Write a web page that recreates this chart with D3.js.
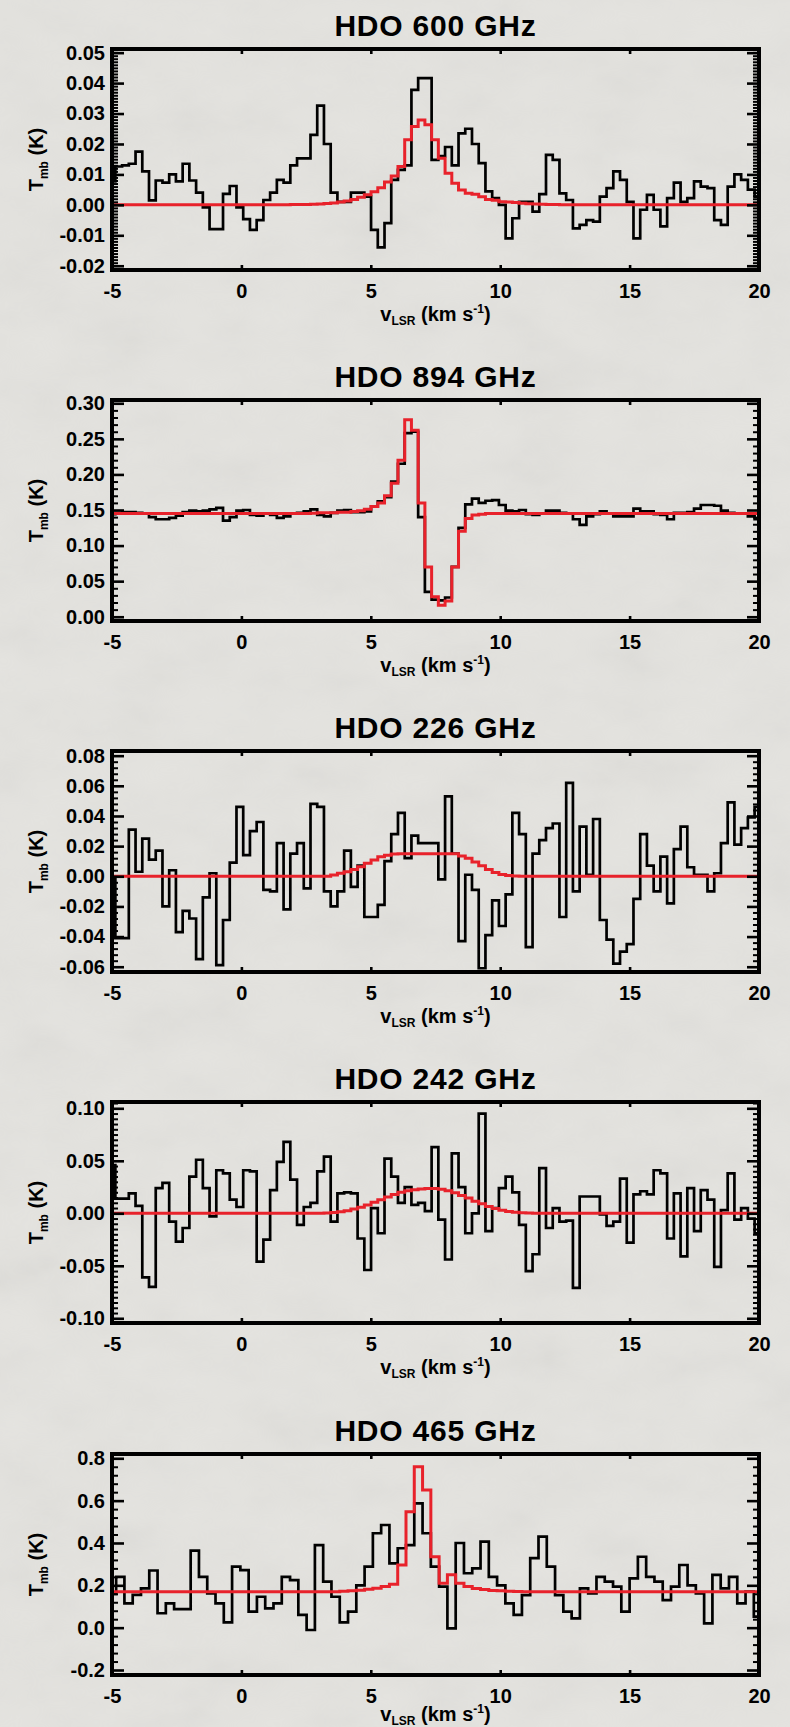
<!DOCTYPE html>
<html>
<head>
<meta charset="utf-8">
<script src="https://cdn.jsdelivr.net/npm/d3@7"></script>
<style>
html,body{margin:0;padding:0;background:#e4e3df;}
svg{display:block;}
text{font-family:"Liberation Sans",Arial,Helvetica,sans-serif;font-weight:bold;}
</style>
</head>
<body>
<svg id="chart" width="790" height="1727"></svg>
<script>
// ---------------- DATA ----------------
const velocityStart = -5;            // km/s, first channel
const velocityRange = [-5, 20];
const xTickValues = [-5, 0, 5, 10, 15, 20];
const xTickLabels = ["-5", "0", "5", "10", "15", "20"];

const titles = ["HDO 600 GHz", "HDO 894 GHz", "HDO 226 GHz", "HDO 242 GHz", "HDO 465 GHz"];
const channelWidth = [0.26, 0.26, 0.26, 0.26, 0.32];   // km/s

// HDO 600 GHz
const obs600 = [0.0077,0.0126,0.013,0.0135,0.0175,0.011,0.0015,0.008,0.0073,0.010,
0.0077,0.0135,0.008,0.004,-0.0008,-0.008,-0.008,0.0036,0.0062,-0.0008,
-0.0047,-0.0082,-0.005,0.0016,0.004,0.0082,0.0073,0.013,0.0153,0.0153,
0.023,0.0326,0.020,0.004,0.001,0.001,0.004,0.004,0.0027,-0.0082,
-0.014,-0.006,0.0082,0.0115,0.013,0.0378,0.0416,0.0416,0.0148,0.016,
0.019,0.013,0.0235,0.025,0.020,0.0137,0.0044,0.0022,0.0,-0.011,
-0.0044,0.001,0.001,-0.0022,0.0035,0.0164,0.0148,0.0038,0.0016,-0.0077,
-0.0066,-0.005,-0.0055,0.0027,0.0055,0.011,0.0082,0.001,-0.011,-0.0016,
0.0033,-0.0016,-0.0071,0.0022,0.0073,0.001,0.0022,0.0077,0.006,0.0055,
-0.005,-0.0066,0.006,0.010,0.0082,0.005,0.0027];
const fit600 = [0,0,0,0,0,0,0,0,0,0,
0,0,0,0,0,0,0,0,0,0,
0,0,0,0,0,0,0.00005,0.00008,0.0001,0.00015,
0.0002,0.0003,0.00045,0.00065,0.0009,0.0013,0.0018,0.0025,0.0033,0.0043,
0.0056,0.0075,0.0095,0.0126,0.0214,0.0257,0.0279,0.0263,0.0214,0.0153,
0.0104,0.0071,0.0049,0.0038,0.0035,0.0027,0.0018,0.0015,0.001,0.0009,
0.0008,0.0005,0.0004,0.0003,0.0002,0.00015,0.0001,0.00005,0,0,
0,0,0,0,0,0,0,0,0,0,
0,0,0,0,0,0,0,0,0,0,
0,0,0,0,0,0,0];
const yRange600 = [-0.0214, 0.0512];
const yTicks600 = [-0.02, -0.01, 0, 0.01, 0.02, 0.03, 0.04, 0.05];
const yTickLabels600 = ["-0.02", "-0.01", "0.00", "0.01", "0.02", "0.03", "0.04", "0.05"];

// HDO 894 GHz
const obs894 = [0.144,0.146,0.147,0.147,0.146,0.145,0.140,0.137,0.137,0.139,
0.142,0.147,0.149,0.148,0.149,0.151,0.153,0.135,0.140,0.149,
0.150,0.143,0.142,0.145,0.143,0.139,0.141,0.145,0.146,0.148,
0.151,0.143,0.141,0.146,0.149,0.150,0.147,0.147,0.148,0.155,
0.162,0.168,0.190,0.215,0.258,0.260,0.140,0.035,0.024,0.023,
0.027,0.070,0.125,0.158,0.166,0.160,0.163,0.164,0.157,0.149,
0.148,0.150,0.144,0.143,0.145,0.149,0.149,0.146,0.145,0.137,
0.129,0.141,0.144,0.148,0.145,0.141,0.141,0.141,0.152,0.148,
0.148,0.144,0.143,0.137,0.146,0.146,0.147,0.152,0.157,0.157,
0.156,0.149,0.146,0.145,0.145,0.141,0.137];
const fit894 = [0.145,0.145,0.145,0.145,0.145,0.145,0.145,0.145,0.145,0.145,
0.145,0.145,0.145,0.145,0.145,0.145,0.145,0.145,0.145,0.145,
0.145,0.145,0.145,0.145,0.145,0.145,0.145,0.145,0.145,0.145,
0.1455,0.146,0.146,0.146,0.147,0.147,0.148,0.149,0.151,0.155,
0.160,0.170,0.1875,0.220,0.277,0.262,0.160,0.070,0.028,0.016,
0.022,0.070,0.120,0.138,0.143,0.144,0.145,0.145,0.145,0.145,
0.145,0.145,0.145,0.145,0.145,0.145,0.145,0.145,0.145,0.145,
0.145,0.145,0.145,0.145,0.145,0.145,0.145,0.145,0.145,0.145,
0.145,0.145,0.145,0.145,0.145,0.145,0.145,0.145,0.145,0.145,
0.145,0.145,0.145,0.145,0.145,0.145,0.145];
const yRange894 = [-0.006, 0.3046];
const yTicks894 = [0, 0.05, 0.10, 0.15, 0.20, 0.25, 0.30];
const yTickLabels894 = ["0.00", "0.05", "0.10", "0.15", "0.20", "0.25", "0.30"];

// HDO 226 GHz
const obs226 = [-0.001,-0.041,-0.041,0.031,0.003,0.025,0.011,0.017,-0.020,0.004,
-0.037,-0.023,-0.028,-0.055,-0.014,0.002,-0.059,-0.029,0.009,0.046,
0.014,0.030,0.036,-0.009,-0.010,0.022,-0.022,0.015,0.022,-0.008,
0.048,0.046,-0.010,-0.020,-0.010,0.017,-0.007,0.007,-0.027,-0.027,
-0.019,0.010,0.028,0.042,0.012,0.027,0.022,0.022,0.022,-0.002,
0.053,0.015,-0.043,0.001,-0.009,-0.061,-0.039,-0.016,-0.033,-0.012,
0.042,0.028,-0.047,0.015,0.024,0.032,0.035,-0.027,0.062,-0.010,
0.033,0.001,0.038,-0.029,-0.042,-0.058,-0.050,-0.045,-0.015,0.028,
0.007,-0.010,0.013,-0.018,0.018,0.033,0.006,0.001,0.001,-0.010,
0.002,0.022,0.049,0.021,0.032,0.039,0.046];
const fit226 = [0,0,0,0,0,0,0,0,0,0,
0,0,0,0,0,0,0,0,0,0,
0,0,0,0,0,0,0,0,0,0,
0,0,0,0.0008,0.002,0.003,0.0045,0.0063,0.0086,0.0108,
0.013,0.014,0.0148,0.015,0.015,0.015,0.015,0.015,0.015,0.015,
0.015,0.015,0.0135,0.012,0.0095,0.007,0.0045,0.0025,0.0012,0.0005,
0.0002,0,0,0,0,0,0,0,0,0,
0,0,0,0,0,0,0,0,0,0,
0,0,0,0,0,0,0,0,0,0,
0,0,0,0,0,0,0];
const yRange226 = [-0.0635, 0.0831];
const yTicks226 = [-0.06, -0.04, -0.02, 0, 0.02, 0.04, 0.06, 0.08];
const yTickLabels226 = ["-0.06", "-0.04", "-0.02", "0.00", "0.02", "0.04", "0.06", "0.08"];

// HDO 242 GHz
const obs242 = [0.046,0.014,0.014,0.019,0.007,-0.061,-0.070,0.024,0.029,-0.008,
-0.027,-0.014,0.035,0.051,0.024,-0.003,0.041,0.038,0.013,0.006,
0.041,0.040,-0.046,-0.025,0.022,0.049,0.068,0.032,-0.011,0.006,
0.010,0.040,0.054,-0.008,0.019,0.020,0.019,-0.024,-0.054,0.005,
-0.019,0.052,0.035,0.010,0.025,0.008,0.010,0.002,0.063,-0.006,
-0.044,0.057,0.025,-0.019,0.000,0.095,-0.017,0.005,0.024,0.035,
0.020,-0.011,-0.055,-0.039,0.043,-0.014,0.005,-0.008,-0.007,-0.071,
0.016,0.016,0.016,-0.001,-0.012,-0.008,0.033,-0.028,0.018,0.021,
0.018,0.041,0.038,-0.024,0.019,-0.041,0.024,-0.017,0.022,0.013,
-0.051,0.003,0.038,-0.006,0.005,-0.005,-0.019];
const fit242 = [0,0,0,0,0,0,0,0,0,0,
0,0,0,0,0,0,0,0,0,0,
0,0,0,0,0,0,0,0,0,0,
0,0,0.0003,0.0008,0.0015,0.0025,0.004,0.0058,0.008,0.0105,
0.013,0.0155,0.018,0.020,0.0215,0.0225,0.0232,0.0236,0.0236,0.023,
0.0215,0.0195,0.017,0.0145,0.0115,0.009,0.0065,0.0045,0.003,0.0018,
0.001,0.0005,0.0002,0,0,0,0,0,0,0,
0,0,0,0,0,0,0,0,0,0,
0,0,0,0,0,0,0,0,0,0,
0,0,0,0,0,0,0];
const yRange242 = [-0.1045, 0.106];
const yTicks242 = [-0.10, -0.05, 0, 0.05, 0.10];
const yTickLabels242 = ["-0.10", "-0.05", "0.00", "0.05", "0.10"];

// HDO 465 GHz
const obs465 = [0.16,0.24,0.115,0.155,0.186,0.27,0.068,0.115,0.088,0.088,
0.364,0.24,0.162,0.115,0.025,0.288,0.272,0.076,0.146,0.091,
0.115,0.24,0.225,0.06,-0.011,0.39,0.217,0.146,0.025,0.076,
0.2,0.288,0.446,0.485,0.304,0.375,0.39,0.587,0.446,0.288,
0.194,-0.003,0.4,0.257,0.28,0.406,0.24,0.2,0.115,0.06,
0.154,0.328,0.43,0.288,0.154,0.076,0.044,0.186,0.162,0.24,
0.217,0.194,0.076,0.233,0.335,0.24,0.217,0.13,0.194,0.296,
0.2,0.162,0.02,0.249,0.186,0.24,0.115,0.17,0.052];
const fit465 = [0.17,0.17,0.17,0.17,0.17,0.17,0.17,0.17,0.17,0.17,
0.17,0.17,0.17,0.17,0.17,0.17,0.17,0.17,0.17,0.17,
0.17,0.17,0.17,0.17,0.17,0.17,0.17,0.17,0.172,0.174,
0.177,0.181,0.186,0.195,0.205,0.296,0.548,0.76,0.65,0.335,
0.21,0.25,0.21,0.195,0.185,0.18,0.176,0.174,0.172,0.171,
0.17,0.17,0.17,0.17,0.17,0.17,0.17,0.17,0.17,0.17,
0.17,0.17,0.17,0.17,0.17,0.17,0.17,0.17,0.17,0.17,
0.17,0.17,0.17,0.17,0.17,0.17,0.17,0.17,0.17];
const yRange465 = [-0.2236, 0.8203];
const yTicks465 = [-0.2, 0, 0.2, 0.4, 0.6, 0.8];
const yTickLabels465 = ["-0.2", "0.0", "0.2", "0.4", "0.6", "0.8"];

const yMinorStep = [0.001, 0.01, 0.004, 0.005, 0.04];

// ---------------- LAYOUT ----------------
const W = 790, H = 1727;
const panelTops = [49, 400, 751, 1102, 1454];
const xLabelOffset = [51, 51, 51, 51, 46];
const plotH = 221, plotL = 112, plotR = 759;
const RED = "#e8222b";

const svg = d3.select("#chart");
const defs = svg.append("defs");
const flt = defs.append("filter").attr("id", "paper").attr("x", 0).attr("y", 0).attr("width", 1).attr("height", 1);
flt.append("feTurbulence").attr("type", "fractalNoise").attr("baseFrequency", "0.012 0.02").attr("numOctaves", 4).attr("seed", 7);
flt.append("feColorMatrix").attr("type", "saturate").attr("values", 0);
svg.append("rect").attr("width", W).attr("height", H).attr("fill", "#e4e3df");
svg.append("rect").attr("width", W).attr("height", H).attr("filter", "url(#paper)").attr("opacity", 0.10);

const panels = [
  {obs: obs600, fit: fit600, dom: yRange600, ticks: yTicks600, labels: yTickLabels600},
  {obs: obs894, fit: fit894, dom: yRange894, ticks: yTicks894, labels: yTickLabels894},
  {obs: obs226, fit: fit226, dom: yRange226, ticks: yTicks226, labels: yTickLabels226},
  {obs: obs242, fit: fit242, dom: yRange242, ticks: yTicks242, labels: yTickLabels242},
  {obs: obs465, fit: fit465, dom: yRange465, ticks: yTicks465, labels: yTickLabels465}
];

function styleAxis(g, sw) {
  g.select(".domain").remove();
  g.attr("font-size", 20).attr("font-family", null);
  g.selectAll("line").attr("stroke", "#000").attr("stroke-width", sw);
  g.selectAll("text").attr("fill", "#000");
}

panels.forEach((p, k) => {
  const top = panelTops[k], bottom = top + plotH;
  const dv = channelWidth[k];
  const x = d3.scaleLinear().domain(velocityRange).range([plotL, plotR]);
  const y = d3.scaleLinear().domain(p.dom).range([bottom, top]);
  const g = svg.append("g");

  defs.append("clipPath").attr("id", "clip" + k)
    .append("rect").attr("x", plotL).attr("y", top).attr("width", plotR - plotL).attr("height", plotH);

  const line = d3.line().x(d => x(d.v)).y(d => y(d.t)).curve(d3.curveStep);
  const obsData = p.obs.map((t, i) => ({v: velocityStart + i * dv, t}));
  const fitData = p.fit.map((t, i) => ({v: velocityStart + i * dv, t}));

  g.append("path").datum(obsData).attr("clip-path", `url(#clip${k})`)
    .attr("d", line).attr("fill", "none").attr("stroke", "#000")
    .attr("stroke-width", 2.7).attr("stroke-linejoin", "miter");
  g.append("path").datum(fitData).attr("clip-path", `url(#clip${k})`)
    .attr("d", line).attr("fill", "none").attr("stroke", RED)
    .attr("stroke-width", 3).attr("stroke-linejoin", "miter");

  // minor y ticks
  const st = yMinorStep[k];
  const minor = d3.range(Math.ceil(p.dom[0] / st), Math.floor(p.dom[1] / st) + 1)
    .map(n => +(n * st).toFixed(6))
    .filter(v => !p.ticks.some(t => Math.abs(t - v) < st / 10));

  g.append("g").attr("transform", `translate(${plotL},0)`)
    .call(d3.axisLeft(y).tickValues(minor).tickSize(-6).tickFormat(""))
    .call(a => styleAxis(a, 2));
  g.append("g").attr("transform", `translate(${plotR},0)`)
    .call(d3.axisRight(y).tickValues(minor).tickSize(-6).tickFormat(""))
    .call(a => styleAxis(a, 2));
  g.append("g").attr("transform", `translate(${plotL},0)`)
    .call(d3.axisLeft(y).tickValues(p.ticks).tickSize(-12).tickPadding(7)
      .tickFormat(d => p.labels[p.ticks.indexOf(d)]))
    .call(a => styleAxis(a, 2.6));
  g.append("g").attr("transform", `translate(${plotR},0)`)
    .call(d3.axisRight(y).tickValues(p.ticks).tickSize(-12).tickFormat(""))
    .call(a => styleAxis(a, 2.6));
  g.append("g").attr("transform", `translate(0,${bottom})`)
    .call(d3.axisBottom(x).tickValues(xTickValues).tickSize(-5).tickPadding(14)
      .tickFormat(d => xTickLabels[xTickValues.indexOf(d)]))
    .call(a => styleAxis(a, 2.6));
  g.append("g").attr("transform", `translate(0,${top})`)
    .call(d3.axisTop(x).tickValues(xTickValues).tickSize(-5).tickFormat(""))
    .call(a => styleAxis(a, 2.6));

  // frame
  g.append("rect").attr("x", plotL).attr("y", top).attr("width", plotR - plotL).attr("height", plotH)
    .attr("fill", "none").attr("stroke", "#000").attr("stroke-width", 4);

  // title
  g.append("text").attr("x", (plotL + plotR) / 2).attr("y", top - 13)
    .attr("text-anchor", "middle").attr("font-size", 30).attr("letter-spacing", 0.8)
    .attr("fill", "#000").text(titles[k]);

  // x label
  const xl = g.append("text").attr("x", (plotL + plotR) / 2).attr("y", bottom + xLabelOffset[k])
    .attr("text-anchor", "middle").attr("font-size", 20).attr("fill", "#000");
  xl.append("tspan").text("v");
  xl.append("tspan").attr("font-size", 12).attr("dy", 4).text("LSR");
  xl.append("tspan").attr("dy", -4).text(" (km s");
  xl.append("tspan").attr("font-size", 12).attr("dy", -8).text("-1");
  xl.append("tspan").attr("dy", 8).text(")");

  // y label
  const yl = g.append("text").attr("transform", `translate(43,${(top + bottom) / 2}) rotate(-90)`)
    .attr("text-anchor", "middle").attr("font-size", 20).attr("fill", "#000");
  yl.append("tspan").text("T");
  yl.append("tspan").attr("font-size", 12).attr("dy", 5).text("mb");
  yl.append("tspan").attr("dy", -5).text(" (K)");
});
</script>
</body>
</html>
